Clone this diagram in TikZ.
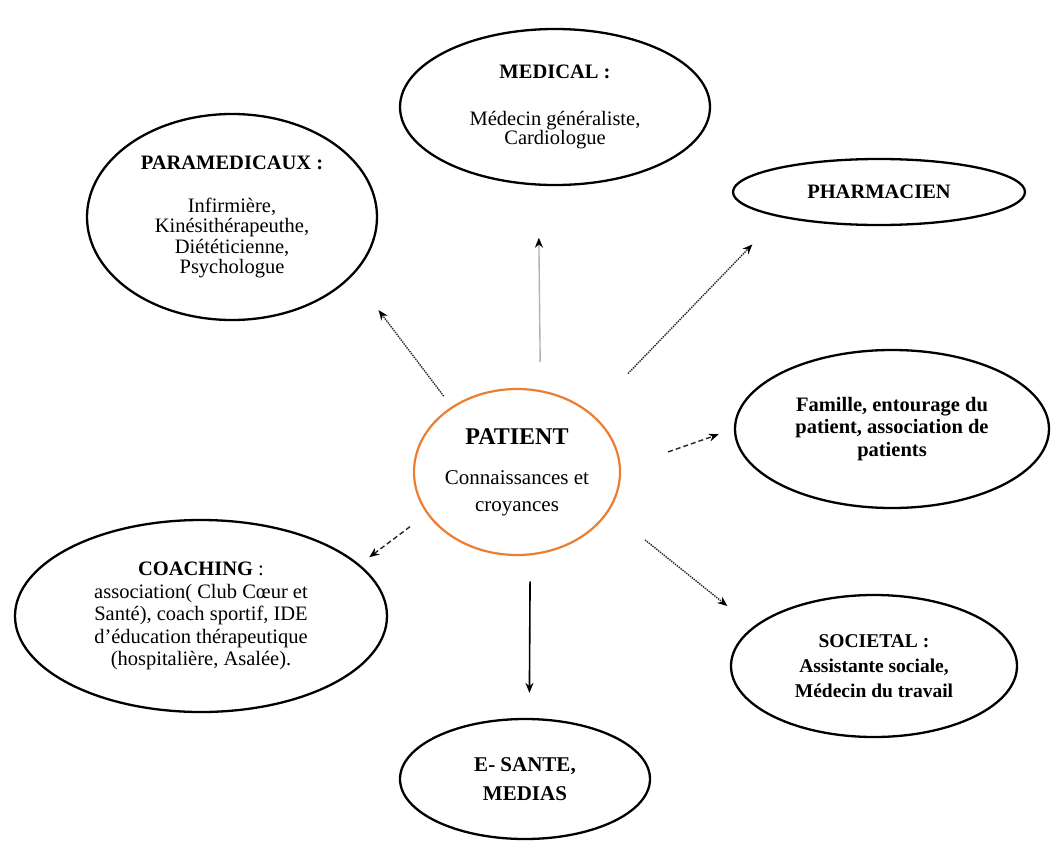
\documentclass[tikz,border=0pt]{standalone}
\usepackage{fontspec}
\setmainfont{Liberation Serif}
\usetikzlibrary{shapes.geometric,arrows.meta}
\definecolor{patorange}{RGB}{237,125,49}
\begin{document}
\begin{tikzpicture}[x=1pt,y=-1pt,
  bubble/.style={ellipse, draw=black, line width=2.3pt, inner sep=0pt, align=center, text=black},
  pbubble/.style={ellipse, draw=patorange, line width=2.2pt, inner sep=0pt, align=center, text=black},
  link/.style={line width=1.4pt, draw=black!85, -{Stealth[length=10pt,width=8pt,color=black]}},
  dotlink/.style={link, densely dotted},
  dashlink/.style={link, dash pattern=on 5pt off 3pt},
  greylink/.style={line width=1.4pt, draw=black!30, -{Stealth[length=10pt,width=8pt,color=black]}},
  solidlink/.style={line width=1.6pt, draw=black, -{Stealth[length=10pt,width=8pt]}}
]
\useasboundingbox (0,0) rectangle (1055,846);

\node[bubble, minimum width=310pt, minimum height=156pt, font=\fontsize{20.5}{18.5}\selectfont] (medical) at (555,107)
  {\textbf{MEDICAL :}\\[28pt] Médecin généraliste,\\ Cardiologue};

\node[bubble, minimum width=290pt, minimum height=206pt, font=\fontsize{20.5}{20.5}\selectfont] (para) at (232,217)
  {\textbf{PARAMEDICAUX :}\\[22pt] Infirmière,\\ Kinésithérapeuthe,\\ Diététicienne,\\ Psychologue};

\node[bubble, minimum width=292pt, minimum height=66pt, font=\fontsize{20.5}{20}\selectfont\bfseries] (pharma) at (879,192)
  {PHARMACIEN};

\node[bubble, minimum width=314pt, minimum height=158pt, font=\fontsize{20.5}{22.5}\selectfont\bfseries] (famille) at (892,429)
  {Famille, entourage du\\ patient, association de\\ patients};

\node[pbubble, minimum width=206pt, minimum height=166pt, font=\fontsize{21}{27}\selectfont] (patient) at (517,472)
  {{\fontsize{24}{27}\selectfont\textbf{PATIENT}}\\[13pt] Connaissances et\\ croyances};

\node[bubble, minimum width=372pt, minimum height=192pt, font=\fontsize{20.5}{22.5}\selectfont] (coaching) at (201,616)
  {\textbf{COACHING} :\\ association( Club Cœur et\\ Santé), coach sportif, IDE\\ d’éducation thérapeutique\\ (hospitalière, Asalée).};

\node[bubble, minimum width=286pt, minimum height=142pt, font=\fontsize{19.5}{25}\selectfont\bfseries] (societal) at (874,666)
  {SOCIETAL :\\ Assistante sociale,\\ Médecin du travail};

\node[bubble, minimum width=250pt, minimum height=120pt, font=\fontsize{21}{29}\selectfont\bfseries] (esante) at (525,779)
  {E- SANTE,\\ MEDIAS};

\draw[dotlink, shorten <=13pt, shorten >=43pt] (patient.135) -- (para.-26.4);
\draw[greylink, shorten <=28pt, shorten >=52pt] (patient.74.8) -- (medical.258.35);
\draw[dotlink, shorten <=54pt, shorten >=38pt] (patient.39.7) -- (pharma.194.5);
\draw[dashlink, shorten <=50pt, shorten >=16pt] (patient.2.2) -- (famille.180);
\draw[dotlink, shorten <=46pt, shorten >=33pt] (patient.-23.4) -- (societal.162.6);
\draw[solidlink, shorten <=26pt, shorten >=25pt] (patient.-81.7) -- (esante.86.1);
\draw[dashlink, shorten <=21pt, shorten >=12pt] (patient.205.5) -- (coaching.18.9);
\end{tikzpicture}
\end{document}
